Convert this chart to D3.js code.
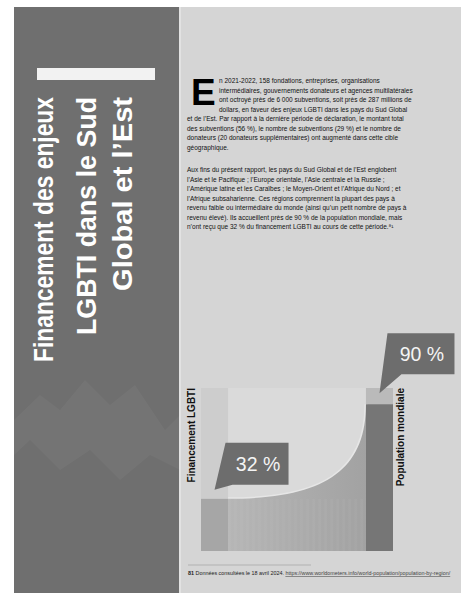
<!DOCTYPE html>
<html><head><meta charset="utf-8">
<script src="https://cdn.jsdelivr.net/npm/d3@7"></script>
<style>html,body{margin:0;padding:0;background:#fff;overflow:hidden}svg{display:block}</style>
</head><body>
<script>
// ---- data ----
const categories = ["Financement LGBTI", "Population mondiale"];
const values = [32, 90];
const valueLabels = ["32 %", "90 %"];
const titleLines = ["Financement des enjeux", "LGBTI dans le Sud", "Global et l\u2019Est"];
const dropCap = "E";
const para1 = [
  "n 2021-2022, 158 fondations, entreprises, organisations",
  "intermédiaires, gouvernements donateurs et agences multilatérales",
  "ont octroyé près de 6 000 subventions, soit près de 287 millions de",
  "dollars, en faveur des enjeux LGBTI dans les pays du Sud Global",
  "et de l’Est. Par rapport à la dernière période de déclaration, le montant total",
  "des subventions (56 %), le nombre de subventions (29 %) et le nombre de",
  "donateurs (20 donateurs supplémentaires) ont augmenté dans cette cible",
  "géographique."
];
const para2 = [
  "Aux fins du présent rapport, les pays du Sud Global et de l’Est englobent",
  "l’Asie et le Pacifique ; l’Europe orientale, l’Asie centrale et la Russie ;",
  "l’Amérique latine et les Caraïbes ; le Moyen-Orient et l’Afrique du Nord ; et",
  "l’Afrique subsaharienne. Ces régions comprennent la plupart des pays à",
  "revenu faible ou intermédiaire du monde (ainsi qu’un petit nombre de pays à",
  "revenu élevé). Ils accueillent près de 90 % de la population mondiale, mais",
  "n’ont reçu que 32 % du financement LGBTI au cours de cette période.\u2078\u00B9"
];
const footNumber = "81";
const footText = "Données consultées le 18 avril 2024.";
const footLink = "https://www.worldometers.info/world-population/population-by-region/";

// ---- layout ----
const W = 461, H = 593;
const FONT = "'Liberation Sans', Arial, sans-serif";
const svg = d3.select("body").append("svg").attr("width", W).attr("height", H);
const defs = svg.append("defs");

svg.append("rect").attr("width", W).attr("height", H).attr("fill", "#ffffff");
svg.append("rect").attr("x", 14).attr("y", 7).attr("width", 166).attr("height", H - 7).attr("fill", "#6f6f6f");
svg.append("rect").attr("x", 180).attr("y", 7).attr("width", W - 180).attr("height", H - 7).attr("fill", "#d5d5d5");
svg.append("rect").attr("x", 179).attr("y", 7).attr("width", 2).attr("height", H - 7).attr("fill", "#e2e2e2");

// faint background shapes in left panel
svg.append("path")
  .attr("d", "M14,420 L40,395 L60,410 L85,380 L110,405 L135,385 L165,430 L180,415 L180,470 L150,455 L120,480 L90,450 L60,470 L30,440 L14,455 Z")
  .attr("fill", "#ffffff").attr("opacity", 0.04);

// title
svg.append("rect").attr("x", 37).attr("y", 68).attr("width", 118).attr("height", 12).attr("fill", "#f2f2f2");
const title = svg.append("g").attr("fill", "#ffffff").attr("font-family", FONT).attr("font-weight", "bold");
const titleX = [53, 96, 132];
const titleLen = [265, 238, 194];
titleLines.forEach((t, i) => {
  title.append("text")
    .attr("transform", `translate(${titleX[i]},97) rotate(-90)`)
    .attr("text-anchor", "end")
    .attr("font-size", 27)
    .attr("textLength", titleLen[i]).attr("lengthAdjust", "spacingAndGlyphs")
    .text(t);
});

// body text
svg.append("text").attr("x", 191).attr("y", 105).attr("font-family", FONT)
  .attr("font-weight", "bold").attr("font-size", 37).attr("fill", "#000").text(dropCap);
const body = svg.append("g").attr("font-family", FONT).attr("fill", "#111").attr("font-size", 6.5);
const lh = 9.5;
para1.forEach((t, i) => {
  body.append("text").attr("x", i < 4 ? 219 : 187).attr("y", 83 + i * lh).text(t);
});
para2.forEach((t, i) => {
  body.append("text").attr("x", 187).attr("y", 172 + i * lh).text(t);
});

// ---- chart ----
const y = d3.scaleLinear().domain([0, 100]).range([551, 388]);
const x = d3.scaleBand().domain(categories).range([201, 393]).paddingInner(0.836).paddingOuter(0);
const bw = x.bandwidth();

const grad = defs.append("linearGradient").attr("id", "areaGrad").attr("x1", "0").attr("x2", "1").attr("y1", "0").attr("y2", "0");
grad.append("stop").attr("offset", "0").attr("stop-color", "#b6b6b6");
grad.append("stop").attr("offset", "1").attr("stop-color", "#a2a2a2");

const chart = svg.append("g");
chart.selectAll("rect.full").data(categories).join("rect").attr("class", "full")
  .attr("x", d => x(d)).attr("width", bw).attr("y", y(100)).attr("height", y(0) - y(100))
  .attr("fill", (d, i) => i === 0 ? "#cdcdcd" : "#bababa");

const x0 = x(categories[0]) + bw, x1 = x(categories[1]);
const y0 = y(values[0]), y1 = y(values[1]);
const k = 0.7;
const curve = p => { p.bezierCurveTo(x0 + k * (x1 - x0), y0, x1, y1 + k * (y0 - y1), x1, y1); };
const glow = d3.path();
glow.moveTo(x0, y(100)); glow.lineTo(x0, y0); curve(glow); glow.lineTo(x1, y(100)); glow.closePath();
chart.append("path").attr("d", glow.toString()).attr("fill", "#ffffff").attr("opacity", 0.12);

const areaPath = d3.path();
areaPath.moveTo(x0, y(0)); areaPath.lineTo(x0, y0); curve(areaPath); areaPath.lineTo(x1, y(0)); areaPath.closePath();
const halo = d3.path();
halo.moveTo(x0, y0); curve(halo);
chart.append("path").attr("d", halo.toString()).attr("fill", "none").attr("stroke", "#e6e6e6").attr("stroke-width", 3);
chart.append("path").attr("d", areaPath.toString()).attr("fill", "url(#areaGrad)");
const stripes = d3.range(x0, x1, 6);
chart.selectAll("rect.stripe").data(stripes).join("rect").attr("class", "stripe")
  .attr("x", d => d).attr("width", 3).attr("y", y(values[0])).attr("height", y(0) - y(values[0]))
  .attr("fill", "#ffffff").attr("opacity", 0.035);

chart.selectAll("rect.val").data(values).join("rect").attr("class", "val")
  .attr("x", (d, i) => x(categories[i])).attr("width", bw)
  .attr("y", d => y(d)).attr("height", d => y(0) - y(d))
  .attr("fill", (d, i) => i === 0 ? "#a6a6a6" : "#767676");

chart.selectAll("text.cat").data(categories).join("text").attr("class", "cat")
  .attr("transform", (d, i) => `translate(${i === 0 ? x(d) - 6 : x(d) + bw + 11},${y(100)}) rotate(-90)`)
  .attr("text-anchor", "end")
  .attr("font-family", FONT).attr("font-weight", "bold")
  .attr("font-size", 10).attr("fill", "#111").text(d => d);

const callout = [
  { tipDy: -9, top: -47, bot: -5, left: 11, right: 74, join: 18 },
  { tipDy: -11, top: -60, bot: -19, left: 8, right: 75, join: 22 }
];
values.forEach((v, i) => {
  const c = callout[i];
  const tx = x(categories[i]) + bw / 2, ty = y(v) + c.tipDy;
  const pts = [
    [tx + c.left, ty + c.top], [tx + c.right, ty + c.top], [tx + c.right, ty + c.bot],
    [tx + c.join, ty + c.bot], [tx, ty]
  ];
  chart.append("path").attr("d", d3.line()(pts) + "Z").attr("fill", "#6d6d6d");
  chart.append("text").attr("x", tx + (c.left + c.right) / 2 + 1).attr("y", ty + (c.top + c.bot) / 2 + 7)
    .attr("text-anchor", "middle").attr("font-family", FONT)
    .attr("font-size", 19.5).attr("fill", "#f4f4f4").text(valueLabels[i]);
});

// footnote
svg.append("line").attr("x1", 188).attr("x2", 311).attr("y1", 565).attr("y2", 565).attr("stroke", "#a8a8a8").attr("stroke-width", 0.8);
const fn = svg.append("text").attr("x", 188).attr("y", 575).attr("font-family", FONT)
  .attr("font-size", 5.4).attr("fill", "#222");
fn.append("tspan").attr("font-weight", "bold").text(footNumber + " ");
fn.append("tspan").text(footText + " ");
fn.append("tspan").attr("text-decoration", "underline").attr("fill", "#444").text(footLink);
</script>
</body></html>
